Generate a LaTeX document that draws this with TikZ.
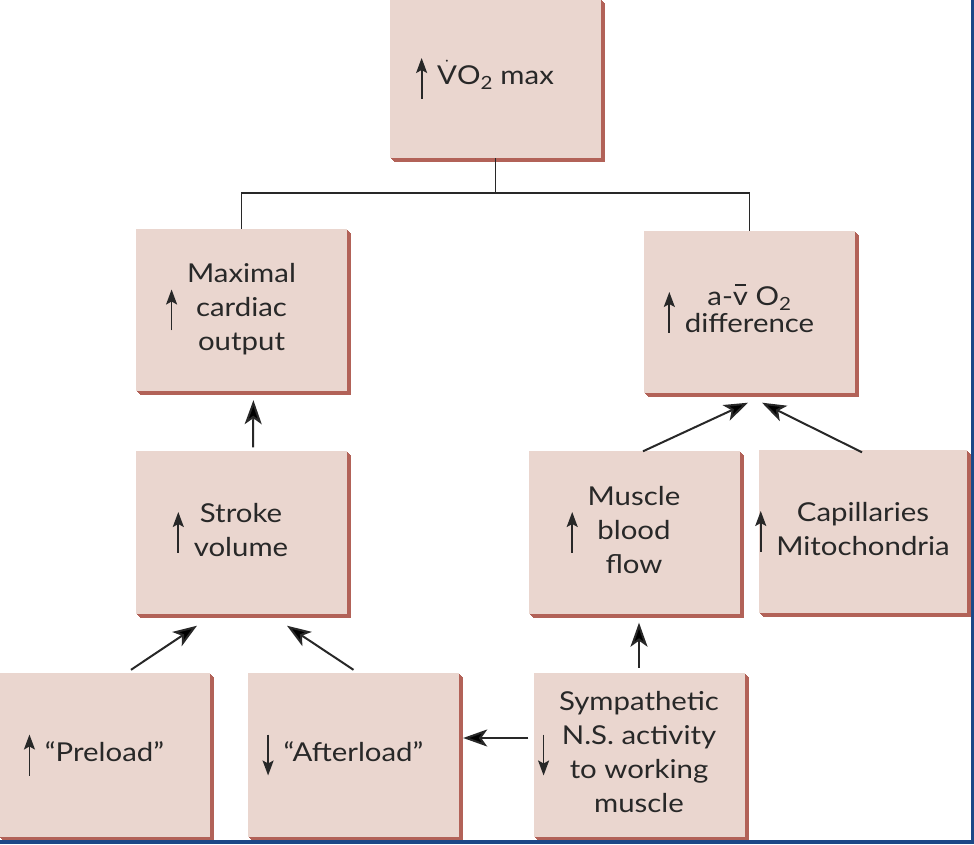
\documentclass[tikz,border=0pt]{standalone}
\usepackage{fontspec}
\setmainfont{Lato}[FakeStretch=1.13]
\usetikzlibrary{arrows.meta, shadows, positioning}
\definecolor{boxpink}{RGB}{234,214,207}
\definecolor{boxedge}{RGB}{178,98,88}
\definecolor{inkgray}{RGB}{40,40,40}
\definecolor{frameblue}{RGB}{28,72,135}
\tikzstyle{box} = [rectangle, fill=boxpink, text=inkgray, minimum width=211pt, minimum height=162pt, inner sep=0pt, font=\fontsize{26}{34}\selectfont,
  general shadow={fill=boxedge, shadow xshift=4pt, shadow yshift=-4pt},
  general shadow={fill=boxedge, shadow xshift=3pt, shadow yshift=-3pt},
  general shadow={fill=boxedge, shadow xshift=2pt, shadow yshift=-2pt},
  general shadow={fill=boxedge, shadow xshift=1pt, shadow yshift=-1pt}]
\tikzstyle{tree} = [draw=inkgray, line width=1.5pt]
\tikzstyle{conn} = [draw=inkgray, line width=2pt, -{Stealth[length=24pt, width=17pt, inset=6pt]}]
\newcommand{\upar}{\llap{$\vcenter{\hbox{\tikz\draw[line width=1.8pt, inkgray, -{Stealth[length=15pt, width=11pt, inset=3pt]}] (0pt,0pt) -- (0pt,41pt);}}$\hspace{10pt}}}
\newcommand{\dnar}{\llap{$\vcenter{\hbox{\tikz\draw[line width=1.8pt, inkgray, -{Stealth[length=15pt, width=11pt, inset=3pt]}] (0pt,41pt) -- (0pt,0pt);}}$\hspace{10pt}}}
\newcommand{\vbar}{\leavevmode\setbox0\hbox{v}\rlap{\hbox to\wd0{\hss\rule[0.74em]{0.42em}{0.07em}\hss}}v}
\newcommand{\stack}[1]{\begin{tabular}{@{}c@{}}#1\end{tabular}}

\begin{document}
\begin{tikzpicture}[x=1pt, y=1pt]
        \useasboundingbox (0,0) rectangle (974,844);

        % Nodes
        \node [box, minimum height=159pt] (vo2) at (495.5,765.5) {\upar$\dot{\mbox{V}}$O\textsubscript{2} max};
        \node [box] (cardiac) at (241.5,534) {\upar\stack{Maximal\\cardiac\\output}};
        \node [box] (avo2) at (749.5,531.5) {\upar{\renewcommand{\arraystretch}{0.78}\stack{a-\vbar\ O\textsubscript{2}\\difference}}};
        \node [box] (stroke) at (241,311.5) {\upar\stack{Stroke\\volume}};
        \node [box] (blood) at (634,311.5) {\upar\stack{Muscle\\blood\\flow}};
        \node [box, minimum width=208pt] (capil) at (863,312.5) {\upar\stack{Capillaries\\Mitochondria}};
        \node [box, minimum height=164pt] (preload) at (104.5,89) {\upar“Preload”};
        \node [box, minimum height=164pt] (afterload) at (353.5,89) {\dnar“Afterload”};
        \node [box, minimum height=164pt] (symp) at (639,89) {\dnar\stack{Sympathetic\\N.S. activity\\to working\\muscle}};

        % Edges
        \draw [tree] (vo2.south) -- ++(0,-35) coordinate (fork);
        \draw [tree] (cardiac.north) |- (fork) -| (avo2.north);
        \draw [conn, shorten >=9pt] ([xshift=12pt, yshift=4pt]stroke.north) -- ([xshift=12pt]cardiac.south);
        \draw [conn] ([xshift=9pt]blood.north) -- ([xshift=-1.5pt, yshift=-9pt]avo2.south);
        \draw [conn] ([xshift=-1pt, yshift=-2pt]capil.north) -- ([xshift=12.5pt, yshift=-9pt]avo2.south);
        \draw [conn] ([xshift=26.5pt, yshift=3pt]preload.north) -- ([xshift=-44pt, yshift=-12pt]stroke.south);
        \draw [conn] ([yshift=3pt]afterload.north) -- ([xshift=46pt, yshift=-12pt]stroke.south);
        \draw [conn, shorten >=9pt] ([yshift=5pt]symp.north) -- (symp.north |- blood.south);
        \draw [conn] ([xshift=-5pt, yshift=17pt]symp.west) -- ([xshift=4pt, yshift=17pt]afterload.east);

        % frame
        \fill [frameblue] (971,0) rectangle (974,844);
        \fill [frameblue] (0,0) rectangle (974,4);
    \end{tikzpicture}
\end{document}
